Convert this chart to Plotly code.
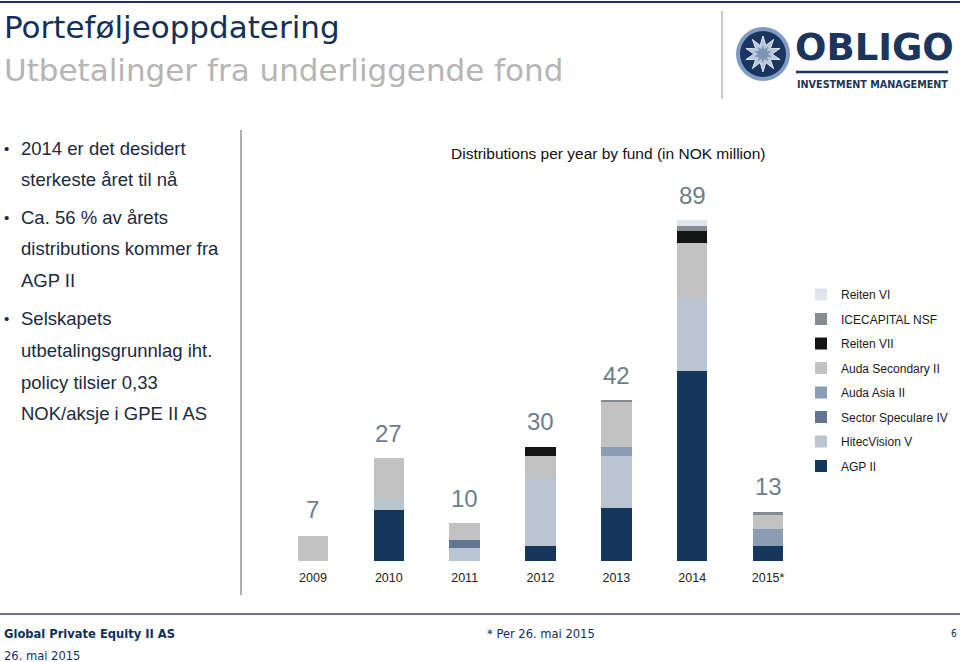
import math
import plotly.graph_objects as go

years = ["2009", "2010", "2011", "2012", "2013", "2014", "2015*"]
totals = [7, 27, 10, 30, 42, 89, 13]

agp_ii = [0, 13.3, 0, 4.0, 13.8, 49.6, 3.9]
hitecvision_v = [0, 2.8, 3.3, 17.6, 13.7, 19.0, 0]
sector_speculare_iv = [0, 0, 2.2, 0, 0, 0, 0]
auda_asia_ii = [0, 0, 0, 0, 2.2, 0, 4.4]
auda_secondary_ii = [6.6, 10.7, 4.4, 5.8, 12.0, 14.4, 3.7]
reiten_vii = [0, 0, 0, 2.4, 0, 3.2, 0]
icecapital_nsf = [0, 0, 0, 0, 0.3, 1.2, 0.7]
reiten_vi = [0, 0, 0, 0, 0, 1.6, 0]

series = [
    ("AGP II", agp_ii, "#15375c"),
    ("HitecVision V", hitecvision_v, "#b9c5d1"),
    ("Sector Speculare IV", sector_speculare_iv, "#627591"),
    ("Auda Asia II", auda_asia_ii, "#8b9db4"),
    ("Auda Secondary II", auda_secondary_ii, "#c2c2c2"),
    ("Reiten VII", reiten_vii, "#151515"),
    ("ICECAPITAL NSF", icecapital_nsf, "#878c93"),
    ("Reiten VI", reiten_vi, "#dfe5ed"),
]

bullet_lines = [
    ("2014 er det desidert", True, 148),
    ("sterkeste året til nå", False, 180),
    ("Ca. 56 % av årets", True, 217),
    ("distributions kommer fra", False, 248),
    ("AGP II", False, 280),
    ("Selskapets", True, 318),
    ("utbetalingsgrunnlag iht.", False, 350),
    ("policy tilsier 0,33", False, 382),
    ("NOK/aksje i GPE II AS", False, 413),
]

W, H = 960, 662
NARROW = "Liberation Sans Narrow, Arial Narrow, Liberation Sans, Arial, sans-serif"
VERD = "DejaVu Sans, Verdana, sans-serif"
COND = "DejaVu Sans Condensed, DejaVu Sans, sans-serif"


def px(x):
    return x / W


def py(y):
    return 1 - y / H


fig = go.Figure()
for k, (name, vals, col) in enumerate(series):
    fig.add_trace(go.Bar(
        x=years, y=vals, name=name, marker=dict(color=col, line=dict(width=0)),
        legendgroup=name, legendrank=1000 - k,
        hovertemplate="%{x}: %{y}<extra>" + name + "</extra>",
    ))

annotations = []
for i, t in enumerate(totals):
    annotations.append(dict(
        x=i, y=t, xref="x", yref="y", text=str(t), showarrow=False,
        yanchor="bottom", yshift=9,
        font=dict(family=NARROW, size=24, color="#6e7d8e"),
    ))

annotations.append(dict(
    x=px(608), y=py(153), xref="paper", yref="paper",
    text="Distributions per year by fund (in NOK million)", showarrow=False,
    xanchor="center", yanchor="middle",
    font=dict(family=NARROW, size=15.5, color="#111111"),
))

for text, bullet, yc in bullet_lines:
    annotations.append(dict(
        x=px(19), y=py(yc), xref="paper", yref="paper", text=text, showarrow=False,
        xanchor="left", yanchor="middle",
        font=dict(family=NARROW, size=18.5, color="#1b2a3c"),
    ))
    if bullet:
        annotations.append(dict(
            x=px(2), y=py(yc), xref="paper", yref="paper", text="•", showarrow=False,
            xanchor="left", yanchor="middle",
            font=dict(family="Liberation Sans, sans-serif", size=15, color="#1b2a3c"),
        ))

# Header
annotations += [
    dict(x=px(2), y=py(27), xref="paper", yref="paper", text="Porteføljeoppdatering",
         showarrow=False, xanchor="left", yanchor="middle",
         font=dict(family=VERD, size=31, color="#12305a")),
    dict(x=px(2), y=py(70), xref="paper", yref="paper", text="Utbetalinger fra underliggende fond",
         showarrow=False, xanchor="left", yanchor="middle",
         font=dict(family=VERD, size=31, color="#b5b5b5")),
    # Logo text
    dict(x=px(793), y=py(47), xref="paper", yref="paper", text="<b>OBLIGO</b>",
         showarrow=False, xanchor="left", yanchor="middle",
         font=dict(family="DejaVu Sans, sans-serif", size=37, color="#1b355e")),
    dict(x=px(795), y=py(84), xref="paper", yref="paper", text="<b>INVESTMENT MANAGEMENT</b>",
         showarrow=False, xanchor="left", yanchor="middle",
         font=dict(family=COND, size=10.7, color="#1b355e")),
    # Footer
    dict(x=px(2), y=py(633), xref="paper", yref="paper", text="<b>Global Private Equity II AS</b>",
         showarrow=False, xanchor="left", yanchor="middle",
         font=dict(family=COND, size=12.8, color="#12305a")),
    dict(x=px(485), y=py(633), xref="paper", yref="paper", text="* Per 26. mai 2015",
         showarrow=False, xanchor="left", yanchor="middle",
         font=dict(family=COND, size=12.8, color="#12305a")),
    dict(x=px(959), y=py(633), xref="paper", yref="paper", text="6",
         showarrow=False, xanchor="right", yanchor="middle",
         font=dict(family=COND, size=10, color="#12305a")),
    dict(x=px(2), y=py(655), xref="paper", yref="paper", text="26. mai 2015",
         showarrow=False, xanchor="left", yanchor="middle",
         font=dict(family=COND, size=12.8, color="#12305a")),
]

shapes = [
    dict(type="line", xref="paper", yref="paper", x0=0, x1=1, y0=py(2), y1=py(2),
         line=dict(color="#1b355e", width=2)),
    dict(type="line", xref="paper", yref="paper", x0=px(241), x1=px(241), y0=py(130), y1=py(595),
         line=dict(color="#8a96a3", width=1.5)),
    dict(type="line", xref="paper", yref="paper", x0=px(722), x1=px(722), y0=py(11), y1=py(99),
         line=dict(color="#8a96a3", width=1)),
    dict(type="line", xref="paper", yref="paper", x0=0, x1=1, y0=py(614), y1=py(614),
         line=dict(color="#3d4a5a", width=1.5)),
    dict(type="line", xref="paper", yref="paper", x0=px(796), x1=px(948), y0=py(72), y1=py(72),
         line=dict(color="#1b355e", width=2.5)),
    dict(type="circle", xref="paper", yref="paper", x0=px(736), x1=px(790), y0=py(27), y1=py(81),
         fillcolor="#7f9cc4", line=dict(width=0)),
    dict(type="circle", xref="paper", yref="paper", x0=px(740), x1=px(786), y0=py(31), y1=py(77),
         fillcolor="#1b3561", line=dict(width=0)),
]

cx, cy = 763, 54
n = 10


def star(r_out, r_in):
    pts = []
    for i in range(2 * n):
        r = r_out if i % 2 == 0 else r_in
        a = -math.pi / 2 + i * math.pi / n
        pts.append((px(cx + r * math.cos(a)), py(cy + r * math.sin(a))))
    return "M " + " L ".join(f"{x:.5f},{y:.5f}" for x, y in pts) + " Z"


shapes.append(dict(type="path", xref="paper", yref="paper", path=star(18, 9),
                   fillcolor="#b8c8dc", line=dict(color="#dfe7f1", width=1)))
shapes.append(dict(type="path", xref="paper", yref="paper", path=star(9, 5),
                   fillcolor="#7d95b5", line=dict(width=0)))

fig.update_layout(
    width=W, height=H, autosize=False,
    margin=dict(l=0, r=0, t=0, b=0),
    paper_bgcolor="white", plot_bgcolor="white",
    barmode="stack", bargap=0.6,
    showlegend=True,
    legend=dict(
        x=px(801), y=py(280), xanchor="left", yanchor="top",
        traceorder="grouped", tracegroupgap=5.5,
        font=dict(family=NARROW, size=12, color="#1b1b1b"),
        bgcolor="rgba(0,0,0,0)",
    ),
    xaxis=dict(
        domain=[px(275), px(806)], type="category", range=[-0.5, 6.5],
        showgrid=False, zeroline=False, showline=False, ticks="",
        ticklabelstandoff=7,
        tickfont=dict(family=NARROW, size=12.5, color="#222222"),
        fixedrange=True,
    ),
    yaxis=dict(
        domain=[py(561), py(180)], range=[0, 99.4], visible=False, showgrid=False,
        fixedrange=True,
    ),
    annotations=annotations,
    shapes=shapes,
)

post = ("document.body.style.margin='0';document.body.style.overflow='hidden';"
        "var gd=document.getElementById('{plot_id}');"
        "gd.style.width='960px';gd.style.height='662px';"
        "Plotly.relayout(gd,{width:960,height:662});")

fig.write_html("out.html", config={"responsive": False, "displayModeBar": False},
               post_script=post)
